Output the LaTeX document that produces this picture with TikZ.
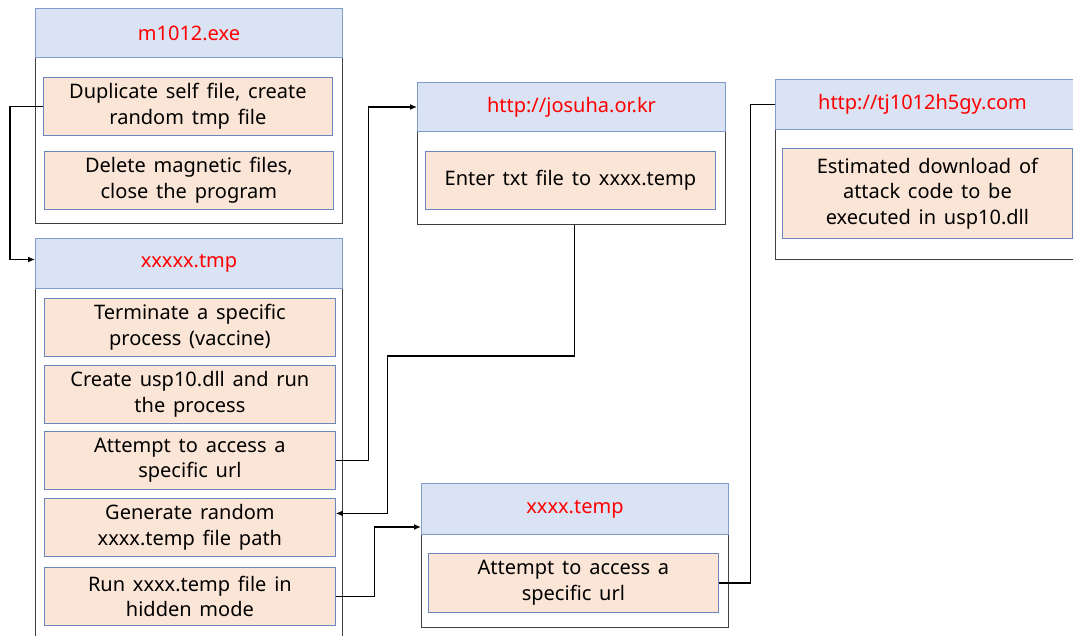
\documentclass[tikz,border=0pt]{standalone}
\usepackage{fontspec}
\setmainfont{Noto Sans}[WordSpace=1.5]
\usetikzlibrary{arrows.meta}
\definecolor{headfill}{HTML}{DAE3F3}
\definecolor{headline}{HTML}{7F9CCB}
\definecolor{taskfill}{HTML}{FBE5D6}
\definecolor{taskline}{HTML}{6A86BC}
\begin{document}
\begin{tikzpicture}[x=1pt,y=-1pt,>={Latex[length=7pt,width=6pt]}]
    \tikzstyle{container}=[draw=black!75,line width=1pt,fill=white,anchor=north west,inner sep=0pt]
    \tikzstyle{header}=[draw=headline,line width=1pt,fill=headfill,text=red,anchor=north west,inner sep=0pt,font=\fontsize{20}{24}\selectfont]
    \tikzstyle{task}=[draw=taskline,line width=0.8pt,fill=taskfill,anchor=north west,align=center,inner sep=0pt,font=\fontsize{20}{25.5}\selectfont]
    \tikzstyle{link}=[line width=1.3pt]
    \useasboundingbox (0,0) rectangle (1073,636);

    % Draw the m1012.exe block
    \node[container,minimum width=307,minimum height=215] (M) at (35,8) {};
    \node[header,minimum width=307,minimum height=49] (M-h) at (35,8) {m1012.exe};
    \node[task,minimum width=289,minimum height=58] (M-1) at (43,77) {Duplicate self file, create\\random tmp file};
    \node[task,minimum width=289,minimum height=58] (M-2) at (44,151) {Delete magnetic files,\\close the program};

    % Draw the xxxxx.tmp block
    \node[container,minimum width=307,minimum height=420] (X) at (35,238) {};
    \node[header,minimum width=307,minimum height=50] (X-h) at (35,238) {xxxxx.tmp};
    \foreach \name / \y / \txt in {1/298/{Terminate a specific\\process (vaccine)},
                                   2/365/{Create usp10.dll and run\\the process},
                                   3/431/{Attempt to access a\\specific url},
                                   4/498/{Generate random\\xxxx.temp file path},
                                   5/567/{Run xxxx.temp file in\\hidden mode}}
        \node[task,minimum width=291,minimum height=58] (X-\name) at (44,\y) {\txt};

    % Draw the http://josuha.or.kr block
    \node[container,minimum width=308,minimum height=142] (J) at (417,82) {};
    \node[header,minimum width=308,minimum height=49] (J-h) at (417,82) {http://josuha.or.kr};
    \node[task,minimum width=290,minimum height=58] (J-1) at (425,151) {Enter txt file to xxxx.temp};

    % Draw the xxxx.temp block
    \node[container,minimum width=307,minimum height=144] (T) at (421,483) {};
    \node[header,minimum width=307,minimum height=51] (T-h) at (421,483) {xxxx.temp};
    \node[task,minimum width=290,minimum height=59] (T-1) at (428,553) {Attempt to access a\\specific url};

    % Draw the http://tj1012h5gy.com block
    \node[container,minimum width=320,minimum height=180] (G) at (775,79) {};
    \node[header,minimum width=320,minimum height=50] (G-h) at (775,79) {\hspace*{-26pt}http://tj1012h5gy.com};
    \node[task,minimum width=290,minimum height=90] (G-1) at (782,148) {Estimated download of\\attack code to be\\executed in usp10.dll};

    % Connect the blocks
    \draw[link,->] (M-1.west) -- ++(-33,0) |- ([yshift=4pt]X-h.west);
    \draw[link,->] (X-3.east) -- ++(33,0) |- (J-h.west);
    \draw[link,->] ([xshift=3pt]J.south) -- ++(0,131) -| ([xshift=52pt,yshift=14pt]X-4.east) -- ([yshift=14pt]X-4.east);
    \draw[link,->] (X-5.east) -- ++(39,0) |- ([yshift=-18pt]T-h.west);
    \draw[link] (T-1.east) -- ++(32,0) |- (G-h.west);
\end{tikzpicture}
\end{document}
